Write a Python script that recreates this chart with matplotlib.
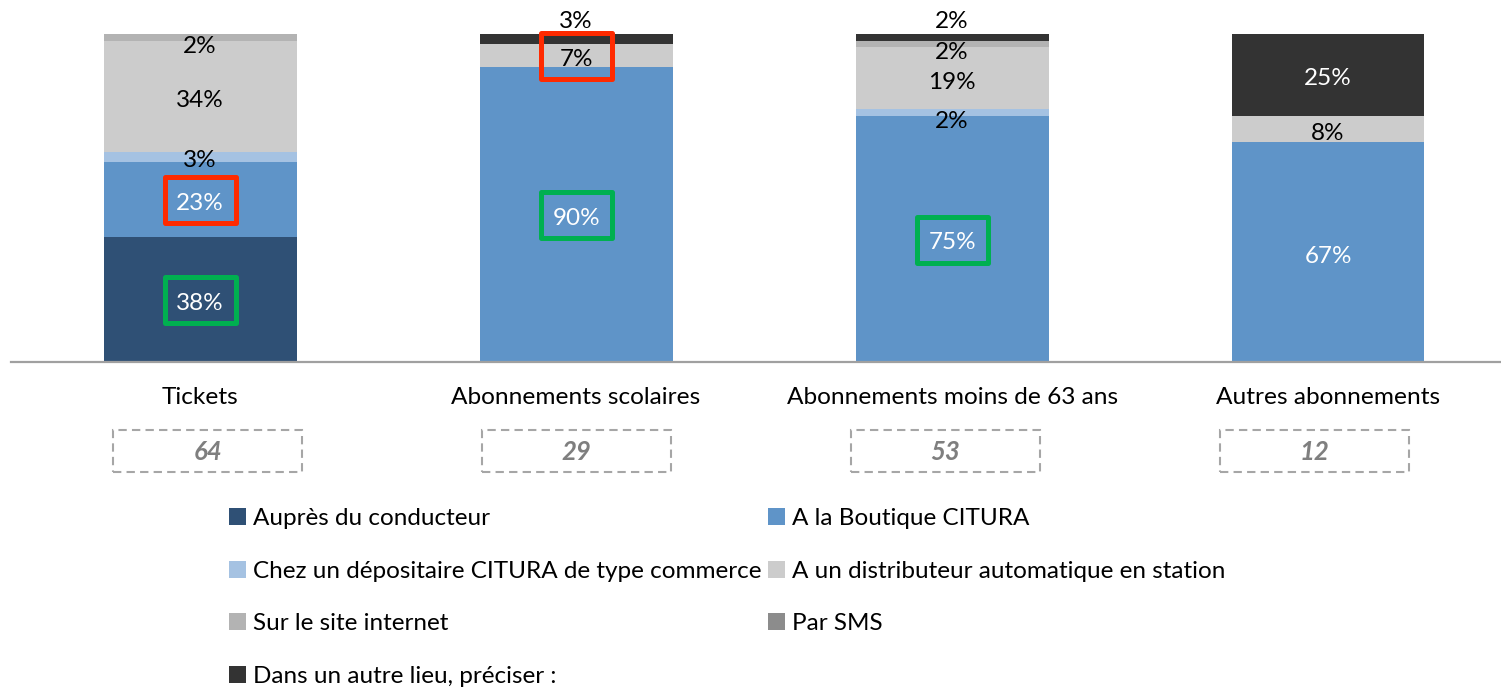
import numpy as np
import matplotlib.pyplot as plt
from matplotlib.patches import Rectangle, Patch
from matplotlib.transforms import blended_transform_factory

plt.rcParams['font.family'] = ['Lato', 'DejaVu Sans']

# Données
categories = ['Tickets', 'Abonnements scolaires', 'Abonnements moins de 63 ans', 'Autres abonnements']
effectifs = [64, 29, 53, 12]
series = ['Auprès du conducteur', 'A la Boutique CITURA',
          'Chez un dépositaire CITURA de type commerce', 'A un distributeur automatique en station',
          'Sur le site internet', 'Par SMS', 'Dans un autre lieu, préciser :']
conducteur = [38, 0, 0, 0]
boutique = [23, 90, 75, 67]
depositaire = [3, 0, 2, 0]
distributeur = [34, 7, 19, 8]
site_internet = [2, 0, 2, 0]
sms = [0, 0, 0, 0]
autre = [0, 3, 2, 25]
values = [conducteur, boutique, depositaire, distributeur, site_internet, sms, autre]

colors = ['#2f5075', '#5f94c8', '#a5c2e2', '#cccccc', '#b3b3b3', '#8c8c8c', '#333333']
label_colors = ['white', 'white', 'black', 'black', 'black', 'black', 'white']

# encadrés (catégorie, série, couleur)
highlights = [(0, 0, '#00b050'), (0, 1, '#ff2a00'), (1, 1, '#00b050'),
              (1, 3, '#ff2a00'), (2, 1, '#00b050')]

fig = plt.figure(figsize=(15.01, 6.92), dpi=100)
ax = fig.add_axes([11 / 1501, 1 - 362 / 692, 1490 / 1501, 362 / 692])
x = np.arange(len(categories))
bw = 0.513

label_pos = {}
bottom = np.zeros(len(categories))
for k, vals in enumerate(values):
    vals = np.array(vals, dtype=float)
    ax.bar(x, vals, bw, bottom=bottom, color=colors[k], linewidth=0, zorder=2)
    for i, v in enumerate(vals):
        if v <= 0:
            continue
        yc = bottom[i] + v / 2
        label_pos[(i, k)] = yc
        col = label_colors[k]
        if k == 6 and v < 5:
            yc = bottom[i] + v + 5
            col = 'black'
        elif v <= 2:
            yc -= 1.5
        ax.text(x[i], yc - 1.2, f'{int(v)}%', ha='center', va='center',
                fontsize=17.5, color=col, zorder=4)
    bottom += vals

for i, k, c in highlights:
    yc = label_pos[(i, k)]
    ax.add_patch(Rectangle((x[i] - 0.0945, yc - 7.2), 0.189, 14, fill=False,
                           edgecolor=c, linewidth=3.6, zorder=5, joinstyle='round'))

ax.set_xlim(-0.503, 3.46)
ax.set_ylim(0, 362 / 3.28)
for s in ['top', 'right', 'left']:
    ax.spines[s].set_visible(False)
ax.spines['bottom'].set_color('#a0a0a0')
ax.spines['bottom'].set_linewidth(1.6)
ax.set_yticks([])
ax.set_xticks(x)
ax.set_xticklabels(categories, fontsize=17.6)
ax.tick_params(axis='x', length=0, pad=18)

# effectifs dans des cadres pointillés
tr = blended_transform_factory(ax.transData, fig.transFigure)
for i, n in enumerate(effectifs):
    cx = x[i] * 0.981 + 0.02
    ax.add_patch(Rectangle((cx - 0.251, 1 - 472 / 692), 0.502, 42 / 692, transform=tr,
                           fill=False, edgecolor='#a6a6a6', linewidth=1.5,
                           linestyle=(0, (4, 2.5)), clip_on=False))
    ax.text(cx, 1 - 452 / 692, str(n), transform=tr, ha='center', va='center',
            fontsize=18.5, fontweight='bold', fontstyle='italic', color='#7f7f7f')

handles = [Patch(facecolor=c, edgecolor='none') for c in colors]
order = [0, 2, 4, 6, 1, 3, 5]
fig.legend([handles[j] for j in order], [series[j] for j in order], ncol=2,
           loc='upper left', bbox_to_anchor=(229 / 1501, 1 - 508 / 692),
           frameon=False, fontsize=17.5, handlelength=0.7, handleheight=0.7,
           handletextpad=0.3, columnspacing=0.25, labelspacing=1.3, borderpad=0,
           borderaxespad=0)

fig.savefig('out.png', dpi=100)
